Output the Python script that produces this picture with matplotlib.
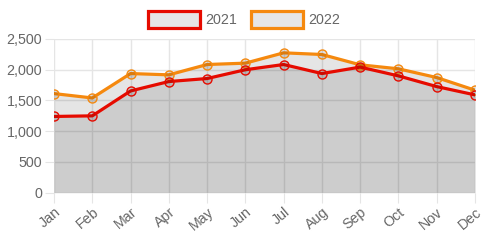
import matplotlib
matplotlib.use('Agg')
import matplotlib.pyplot as plt
from matplotlib.patches import Rectangle
from matplotlib.ticker import FuncFormatter

months = ["Jan", "Feb", "Mar", "Apr", "May", "Jun", "Jul", "Aug", "Sep", "Oct", "Nov", "Dec"]
sales_2021 = [1240, 1250, 1655, 1808, 1857, 2000, 2085, 1938, 2043, 1900, 1726, 1591]
sales_2022 = [1612, 1541, 1938, 1917, 2085, 2107, 2275, 2248, 2080, 2015, 1873, 1667]
series_names = ["2021", "2022"]

red = "#e60b00"
orange = "#f5890f"
grid_col = "#e5e5e5"
fill_col = (0, 0, 0, 0.1)
text_col = "#666666"

plt.rcParams['font.family'] = ['Liberation Sans', 'DejaVu Sans']

fig = plt.figure(figsize=(4.9, 2.45), dpi=100)
ax = fig.add_axes([54 / 490, 1 - 192.7 / 245, (475 - 54) / 490, (192.7 - 39) / 245])

x = list(range(len(months)))
# 2022 first so that 2021 sits on top
for vals, col in [(sales_2022, orange), (sales_2021, red)]:
    ax.fill_between(x, 0, vals, color=fill_col, linewidth=0, zorder=1)
    ax.plot(x, vals, color=col, linewidth=2.3, zorder=3,
            marker='o', markersize=6.5, markerfacecolor=fill_col,
            markeredgecolor=col, markeredgewidth=1.0)

ax.set_xlim(0, 11)
ax.set_ylim(0, 2500)
ax.set_xticks(x)
ax.set_xticklabels(months, rotation=40, ha='right', rotation_mode='anchor')
ax.set_yticks(range(0, 2501, 500))
ax.yaxis.set_major_formatter(FuncFormatter(lambda v, p: f"{int(v):,}"))
ax.set_axisbelow(True)
ax.grid(True, color=grid_col, linewidth=1, zorder=0)
for s in ax.spines.values():
    s.set_visible(False)
ax.tick_params(axis='x', length=7, color=grid_col, labelcolor=text_col, labelsize=10.3, pad=2)
ax.tick_params(axis='y', length=6.5, color=grid_col, labelcolor=text_col, labelsize=10.3, pad=2)

# legend drawn by hand, centered at top
box_w, box_h = 52 / 490, 17 / 245
for name, col, bx, tx in [(series_names[0], red, 147.5, 205), (series_names[1], orange, 251, 308)]:
    fig.patches.append(Rectangle((bx / 490, 1 - 28.5 / 245), box_w, box_h, transform=fig.transFigure,
                                 facecolor="#e6e6e6", edgecolor=col, linewidth=2.3))
    fig.text(tx / 490, 1 - 20 / 245, name, color=text_col, fontsize=10.3, va='center', ha='left')

fig.savefig("out.png", dpi=100)
